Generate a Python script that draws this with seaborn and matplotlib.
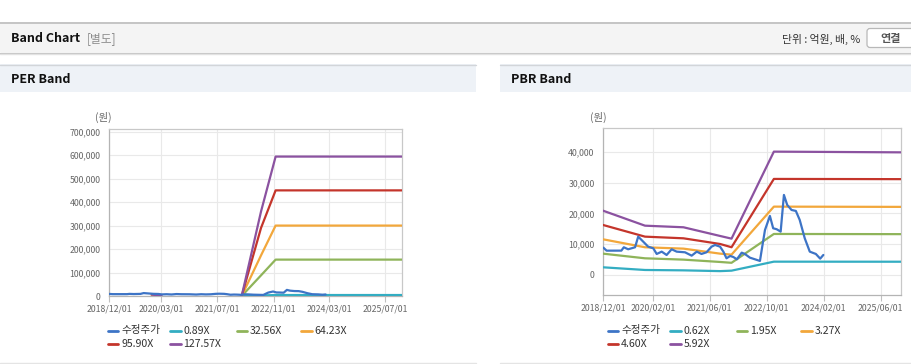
import matplotlib
matplotlib.use("Agg")
import matplotlib.pyplot as plt
import matplotlib.dates as mdates
from matplotlib.ticker import FuncFormatter
from matplotlib.patches import Rectangle, FancyBboxPatch
from matplotlib.lines import Line2D
import pandas as pd
import seaborn as sns

# ---------------- data ----------------
price_label = "수정주가"
price_dates = ["2018-12-04", "2019-01-01", "2019-05-07", "2019-05-28", "2019-07-04", "2019-09-01",
               "2019-09-28", "2019-11-10", "2019-12-22", "2020-02-04", "2020-03-04", "2020-04-16",
               "2020-05-28", "2020-07-10", "2020-08-22", "2020-11-01", "2020-12-28", "2021-02-10",
               "2021-03-22", "2021-05-04", "2021-06-16", "2021-07-16", "2021-08-28", "2021-09-25",
               "2021-10-22", "2021-11-22", "2021-12-19", "2022-01-19", "2022-03-01", "2022-03-28",
               "2022-05-10", "2022-06-22", "2022-08-04", "2022-08-19", "2022-09-16", "2022-10-28",
               "2022-11-25", "2022-12-25", "2023-01-28", "2023-02-25", "2023-03-25", "2023-05-01",
               "2023-06-07", "2023-07-10", "2023-08-22", "2023-10-04", "2023-11-25", "2024-01-01",
               "2024-01-28"]
price_values = [8860, 7890, 7900, 8990, 8340, 8990,
                12440, 10810, 9190, 8660, 6820, 7570,
                6490, 8340, 7570, 7360, 6270, 7570,
                6820, 7360, 9190, 9740, 9190, 7570,
                5410, 6170, 5840, 5090, 7240, 6820,
                5620, 5090, 4550, 8120, 14610, 19160,
                15160, 14840, 14060, 25970, 22730, 21100,
                20780, 17860, 11910, 7570, 6820, 5300,
                6490]

# PER band
per_labels = ["0.89X", "32.56X", "64.23X", "95.90X", "127.57X"]
per_dates = ["2022-01-28", "2022-07-15", "2022-11-19", "2025-11-22"]
per_b1 = [0, 2400, 4150, 4150]
per_b2 = [0, 88000, 155000, 155000]
per_b3 = [0, 173000, 300000, 300000]
per_b4 = [0, 290000, 450000, 450000]
per_b5 = [0, 360000, 594000, 594000]
per_blip_dates = ["2019-12-07", "2020-03-01"]
per_blip_b5 = [6000, 2000]
per_blip_b3 = [3000, 500]
per_yticks = [0, 100000, 200000, 300000, 400000, 500000, 600000, 700000]
per_xticks = ["2018-12-01", "2020-03-01", "2021-07-01", "2022-11-01", "2024-03-01", "2025-07-01"]

# PBR band
pbr_labels = ["0.62X", "1.95X", "3.27X", "4.60X", "5.92X"]
pbr_dates = ["2018-12-01", "2019-11-25", "2020-10-19", "2021-08-28", "2021-12-04", "2022-12-01", "2025-11-22"]
pbr_b1 = [2490, 1620, 1500, 1250, 1400, 4320, 4300]
pbr_b2 = [6920, 5410, 4980, 4220, 3950, 13310, 13250]
pbr_b3 = [11580, 8990, 8550, 6920, 6600, 22180, 22100]
pbr_b4 = [16230, 12440, 11900, 10060, 9000, 31170, 31100]
pbr_b5 = [20870, 16000, 15480, 12660, 11790, 40030, 39800]
pbr_yticks = [0, 10000, 20000, 30000, 40000]
pbr_xticks = ["2018-12-01", "2020-02-01", "2021-06-01", "2022-10-01", "2024-02-01", "2025-06-01"]

x_start, x_end = "2018-12-01", "2025-11-22"

colors = ["#3d74c6", "#33adc2", "#8fb45a", "#f2a73b", "#c4352b", "#8b52a0"]

# ---------------- figure ----------------
sns.set_theme(style="white")
plt.rcParams["font.family"] = ["Noto Sans CJK KR", "DejaVu Sans"]

W, H = 912, 364
fig = plt.figure(figsize=(W / 100, H / 100), dpi=100)
fig.patch.set_facecolor("white")
T = fig.dpi_scale_trans


def px(x, y):
    return x / 100, (H - y) / 100


def rect(x0, y0, x1, y1, fc, ec="none", lw=0):
    a, b = px(x0, y1)
    fig.add_artist(Rectangle((a, b), (x1 - x0) / 100, (y1 - y0) / 100,
                             transform=T, facecolor=fc, edgecolor=ec, linewidth=lw))


def hline(x0, x1, y, color, lw=1.0):
    a, b = px(x0, y)
    c, _ = px(x1, y)
    fig.add_artist(Line2D([a, c], [b, b], transform=T, color=color, linewidth=lw))


def text(x, y, s, **kw):
    a, b = px(x, y)
    fig.text(a, b, s, transform=T, **kw)


# top header bar
rect(0, 22, 912, 52, "#f4f4f4")
hline(0, 912, 22.5, "#bcbcbc", 1.2)
hline(0, 912, 52.5, "#c4c4c4", 1.0)
hline(0, 912, 53.5, "#e2e2e2", 1.0)
text(11, 38.5, "Band Chart", fontsize=9, fontweight="bold", color="#111111", va="center", ha="left")
text(87, 38.5, "[별도]", fontsize=8.5, color="#8c8c8c", va="center", ha="left")
text(860, 39, "단위 : 억원, 배, %", fontsize=7.8, color="#333333", va="center", ha="right")
a, b = px(867, 47.5)
fig.add_artist(FancyBboxPatch((a, b), 0.6, 0.19, boxstyle="round,pad=0,rounding_size=0.03",
                              transform=T, facecolor="white", edgecolor="#b8b8b8", linewidth=0.9))
text(891, 38.5, "연결", fontsize=8, fontweight="bold", color="#555555", va="center", ha="center")

# panel headers
for x0, x1, title in [(0, 476, "PER Band"), (500, 912, "PBR Band")]:
    rect(x0, 64, x1, 92, "#eef2f7")
    hline(x0, x1, 64.5, "#d2d5d9", 1.0)
    text(x0 + 11, 79.5, title, fontsize=9, fontweight="bold", color="#111111", va="center", ha="left")
    hline(x0, x1, 363, "#e4e4e4", 1.0)


def yfmt(v, pos):
    return f"{int(v):,}"


def style_axes(ax, yticks, xticks, ylim):
    ax.set_xlim(pd.Timestamp(x_start), pd.Timestamp(x_end))
    ax.set_ylim(*ylim)
    ax.set_yticks(yticks)
    ax.set_xticks(pd.to_datetime(xticks))
    ax.xaxis.set_major_formatter(mdates.DateFormatter("%Y/%m/%d"))
    ax.yaxis.set_major_formatter(FuncFormatter(yfmt))
    ax.grid(True, color="#e9e9e9", linewidth=0.8)
    ax.set_axisbelow(True)
    for side, sp in ax.spines.items():
        sp.set_visible(True)
        sp.set_color("#b4b4b4" if side in ("left", "bottom") else "#c8c8c8")
        sp.set_linewidth(0.9)
    ax.tick_params(axis="x", length=4, width=0.8, color="#c0c0c0", pad=2,
                   labelsize=6.3, labelcolor="#666666", bottom=True)
    ax.tick_params(axis="y", length=0, pad=6, labelsize=6.3, labelcolor="#666666", left=True)
    ax.set_xlabel("")
    ax.set_ylabel("")
    ax.set_facecolor("white")


def draw(ax, dates, bands):
    for vals, col in zip(bands, colors[1:]):
        sns.lineplot(x=pd.to_datetime(dates), y=vals, ax=ax, color=col, linewidth=1.6,
                     legend=False, zorder=3)
    sns.lineplot(x=pd.to_datetime(price_dates), y=price_values, ax=ax, color=colors[0],
                 linewidth=1.6, legend=False, zorder=4)


def legend(x0, labels):
    names = [price_label] + labels
    cols = [107.7, 170, 236.7, 301]
    for i, (name, col) in enumerate(zip(names, colors)):
        r, c = divmod(i, 4)
        y = 330.5 + 13.5 * r
        xh = x0 + cols[c]
        a, b = px(xh, y)
        e, _ = px(xh + 10.6, y)
        fig.add_artist(Line2D([a, e], [b, b], transform=T, color=col, linewidth=2))
        text(xh + 13.3, y, name, fontsize=7.6, color="#333333", va="center", ha="left")


# PER axes
ax1 = fig.add_axes([109 / W, 1 - 296 / H, (402 - 109) / W, (296 - 129) / H])
draw(ax1, per_dates, [per_b1, per_b2, per_b3, per_b4, per_b5])
sns.lineplot(x=pd.to_datetime(per_blip_dates), y=per_blip_b3, ax=ax1, color=colors[3],
             linewidth=1.6, legend=False, zorder=3)
sns.lineplot(x=pd.to_datetime(per_blip_dates), y=per_blip_b5, ax=ax1, color=colors[5],
             linewidth=1.6, legend=False, zorder=3)
style_axes(ax1, per_yticks, per_xticks, (0, 711500))
text(103, 117.5, "(원)", fontsize=7.5, color="#666666", va="center", ha="center")
legend(0, per_labels)

# PBR axes
ax2 = fig.add_axes([603 / W, 1 - 295 / H, (901 - 603) / W, (295 - 128) / H])
draw(ax2, pbr_dates, [pbr_b1, pbr_b2, pbr_b3, pbr_b4, pbr_b5])
style_axes(ax2, pbr_yticks, pbr_xticks, (-6500, 47700))
text(598, 117.5, "(원)", fontsize=7.5, color="#666666", va="center", ha="center")
legend(500, pbr_labels)

fig.savefig("out.png", dpi=100)
